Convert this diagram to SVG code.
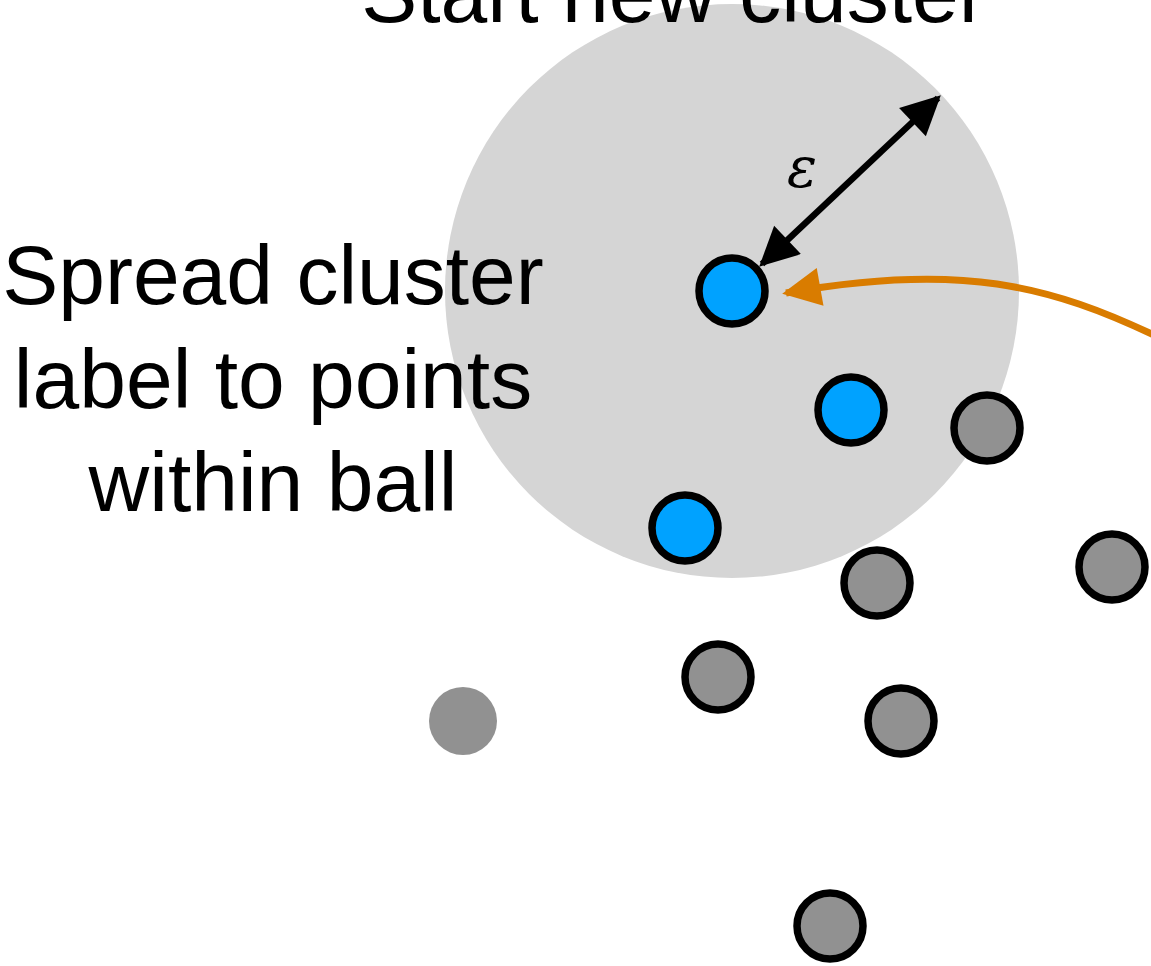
<svg xmlns="http://www.w3.org/2000/svg" width="1151" height="966" viewBox="0 0 1151 966">
<defs>
<style>
.lbl{font-family:"Liberation Sans",Arial,sans-serif;font-size:84px;fill:#000;text-anchor:middle}
.blue{fill:#00A2FF;stroke:#000;stroke-width:7.5}
.gray{fill:#919191;stroke:#000;stroke-width:7.5}
</style>
<marker id="ahB" viewBox="0 0 10 10" refX="9" refY="5" markerWidth="6.5" markerHeight="6" markerUnits="strokeWidth" orient="auto-start-reverse"><path d="M0,0 L10,5 L0,10 Z" fill="#000"/></marker>
<marker id="ahO" viewBox="0 0 10 10" refX="9" refY="5" markerWidth="6" markerHeight="5.5" markerUnits="strokeWidth" orient="auto"><path d="M0,0 L10,5 L0,10 Z" fill="#D97C00"/></marker>
</defs>
<rect width="1151" height="966" fill="#fff"/>
<g id="ball"><circle cx="732" cy="291" r="287" fill="#D5D5D5"/></g>
<g id="title"><text class="lbl" x="674" y="22">Start new cluster</text></g>
<g id="spread-label"><text class="lbl" x="273" y="304">Spread cluster</text><text class="lbl" x="273" y="408">label to points</text><text class="lbl" x="273" y="511">within ball</text></g>
<g id="epsilon"><text x="802" y="187" font-family="DejaVu Serif,serif" font-style="italic" font-size="56" text-anchor="middle">ε</text></g>
<g id="connectors">
<line x1="762" y1="264" x2="938" y2="98" stroke="#000" stroke-width="6.5" marker-start="url(#ahB)" marker-end="url(#ahB)"/>
<path d="M1160,338 C1050,285 960,262 786,293" fill="none" stroke="#D97C00" stroke-width="7" marker-end="url(#ahO)"/>
</g>
<g id="p1"><circle class="blue" cx="732" cy="291" r="33"/></g>
<g id="p2"><circle class="blue" cx="851" cy="410" r="33"/></g>
<g id="p3"><circle class="blue" cx="685" cy="528" r="33"/></g>
<g id="p4"><circle class="gray" cx="987" cy="428" r="33"/></g>
<g id="p5"><circle class="gray" cx="877" cy="583" r="33"/></g>
<g id="p6"><circle class="gray" cx="1112" cy="567" r="33"/></g>
<g id="p7"><circle class="gray" cx="718" cy="677" r="33"/></g>
<g id="p8"><circle class="gray" cx="901" cy="721" r="33"/></g>
<g id="p9"><circle class="gray" cx="830" cy="926" r="33"/></g>
<g id="p10"><circle cx="463" cy="721" r="34" fill="#919191"/></g>
</svg>
